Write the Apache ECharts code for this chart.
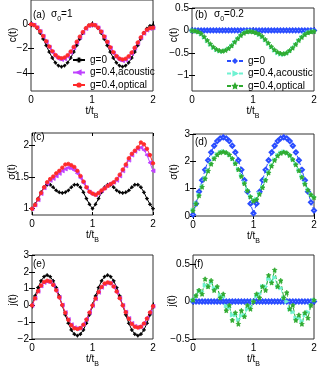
<!DOCTYPE html>
<html>
<head>
<meta charset="utf-8">
<script src="https://cdn.jsdelivr.net/npm/echarts@6.0.0/dist/echarts.min.js"></script>
<style>
  html, body { margin: 0; padding: 0; background: #fff; }
  #main { width: 320px; height: 369px; }
</style>
</head>
<body>
<div id="main"></div>
<script>
// time axis t/t_B
const tB = [0, 0.05, 0.1, 0.15, 0.2, 0.25, 0.3, 0.35, 0.4, 0.45, 0.5, 0.55, 0.6, 0.65, 0.7, 0.75, 0.8, 0.85, 0.9, 0.95,
  1, 1.05, 1.1, 1.15, 1.2, 1.25, 1.3, 1.35, 1.4, 1.45, 1.5, 1.55, 1.6, 1.65, 1.7, 1.75, 1.8, 1.85, 1.9, 1.95, 2];

// (a) c(t), sigma0 = 1
const aG0 = [0, -0.09, -0.33, -0.72, -1.21, -1.75, -2.29, -2.78, -3.17, -3.41, -3.5, -3.41, -3.17, -2.78, -2.29, -1.75, -1.21, -0.72, -0.33, -0.09,
  0, -0.09, -0.33, -0.72, -1.21, -1.75, -2.29, -2.78, -3.17, -3.41, -3.5, -3.41, -3.17, -2.78, -2.29, -1.75, -1.21, -0.72, -0.35, -0.14, -0.08];
const aAc = [0, -0.07, -0.28, -0.6, -1.0, -1.45, -1.9, -2.3, -2.62, -2.83, -2.9, -2.84, -2.64, -2.33, -1.95, -1.5, -1.07, -0.68, -0.35, -0.12,
  -0.05, -0.1, -0.3, -0.63, -1.05, -1.5, -1.96, -2.38, -2.7, -2.92, -3.0, -2.93, -2.72, -2.4, -1.98, -1.55, -1.12, -0.75, -0.48, -0.34, -0.3];
const aOp = [0, -0.07, -0.27, -0.58, -0.97, -1.4, -1.83, -2.22, -2.53, -2.73, -2.8, -2.74, -2.55, -2.25, -1.87, -1.44, -1.02, -0.64, -0.32, -0.1,
  -0.03, -0.08, -0.28, -0.6, -1.01, -1.45, -1.9, -2.3, -2.62, -2.83, -2.9, -2.84, -2.64, -2.33, -1.93, -1.5, -1.08, -0.72, -0.45, -0.32, -0.28];

// (b) c(t), sigma0 = 0.2
const bG0 = [0, 0, 0, 0, 0, 0, 0, 0, 0, 0, 0, 0, 0, 0, 0, 0, 0, 0, 0, 0,
  0, 0, 0, 0, 0, 0, 0, 0, 0, 0, 0, 0, 0, 0, 0, 0, 0, 0, 0, 0, 0];
const bAc = [0, -0.01, -0.03, -0.08, -0.15, -0.23, -0.31, -0.38, -0.43, -0.46, -0.47, -0.45, -0.41, -0.35, -0.27, -0.19, -0.12, -0.06, -0.03, -0.02,
  -0.03, -0.05, -0.09, -0.14, -0.21, -0.29, -0.37, -0.44, -0.5, -0.53, -0.54, -0.52, -0.47, -0.4, -0.32, -0.23, -0.15, -0.09, -0.05, -0.03, -0.02];
const bOp = [0, -0.01, -0.03, -0.07, -0.14, -0.22, -0.3, -0.37, -0.42, -0.45, -0.46, -0.44, -0.4, -0.34, -0.26, -0.18, -0.11, -0.06, -0.03, -0.02,
  -0.03, -0.05, -0.08, -0.13, -0.2, -0.28, -0.36, -0.43, -0.48, -0.51, -0.52, -0.5, -0.45, -0.39, -0.31, -0.22, -0.15, -0.09, -0.05, -0.03, -0.02];

// (c) sigma(t), sigma0 = 1
const cG0 = [1.0, 1.07, 1.16, 1.26, 1.34, 1.38, 1.38, 1.34, 1.29, 1.26, 1.25, 1.26, 1.29, 1.34, 1.38, 1.38, 1.34, 1.26, 1.16, 1.07,
  1.0, 1.07, 1.16, 1.26, 1.34, 1.38, 1.38, 1.34, 1.29, 1.26, 1.25, 1.26, 1.29, 1.34, 1.38, 1.38, 1.34, 1.26, 1.16, 1.07, 1.0];
const cAc = [1.0, 1.06, 1.14, 1.24, 1.33, 1.4, 1.45, 1.48, 1.52, 1.56, 1.6, 1.63, 1.65, 1.64, 1.61, 1.56, 1.49, 1.41, 1.33, 1.26,
  1.23, 1.22, 1.25, 1.29, 1.33, 1.37, 1.4, 1.42, 1.45, 1.52, 1.6, 1.68, 1.77, 1.85, 1.91, 1.95, 1.97, 1.93, 1.85, 1.73, 1.6];
const cOp = [1.0, 1.06, 1.15, 1.25, 1.34, 1.42, 1.47, 1.51, 1.56, 1.6, 1.65, 1.7, 1.71, 1.69, 1.66, 1.6, 1.52, 1.43, 1.34, 1.27,
  1.24, 1.22, 1.25, 1.29, 1.32, 1.36, 1.39, 1.42, 1.47, 1.54, 1.62, 1.7, 1.8, 1.87, 1.92, 1.97, 2.05, 2.02, 1.95, 1.85, 1.72];

// (d) sigma(t), sigma0 = 0.2
const dG0 = [0.05, 0.45, 0.89, 1.31, 1.69, 2.04, 2.33, 2.57, 2.74, 2.84, 2.88, 2.84, 2.74, 2.57, 2.33, 2.04, 1.69, 1.31, 0.89, 0.45,
  0.1, 0.45, 0.89, 1.31, 1.69, 2.04, 2.33, 2.57, 2.74, 2.84, 2.88, 2.84, 2.74, 2.57, 2.33, 2.04, 1.69, 1.31, 0.89, 0.5, 0.2];
const dAc = [0.22, 0.47, 0.77, 1.08, 1.38, 1.66, 1.91, 2.11, 2.25, 2.33, 2.36, 2.33, 2.25, 2.11, 1.93, 1.72, 1.48, 1.22, 0.96, 0.73,
  0.58, 0.62, 0.82, 1.06, 1.33, 1.6, 1.85, 2.06, 2.22, 2.31, 2.35, 2.32, 2.23, 2.08, 1.9, 1.68, 1.45, 1.2, 0.98, 0.8, 0.7];
const dOp = [0.2, 0.45, 0.75, 1.06, 1.37, 1.65, 1.9, 2.1, 2.24, 2.32, 2.35, 2.32, 2.24, 2.1, 1.92, 1.7, 1.45, 1.19, 0.93, 0.7,
  0.55, 0.6, 0.8, 1.04, 1.31, 1.58, 1.83, 2.04, 2.2, 2.3, 2.34, 2.31, 2.22, 2.07, 1.88, 1.66, 1.42, 1.17, 0.95, 0.78, 0.68];

// (e) j(t), sigma0 = 1
const eG0 = [0, 0.56, 1.06, 1.46, 1.71, 1.8, 1.71, 1.46, 1.06, 0.56, 0, -0.56, -1.06, -1.46, -1.71, -1.8, -1.71, -1.46, -1.06, -0.56,
  0, 0.56, 1.06, 1.46, 1.71, 1.8, 1.71, 1.46, 1.06, 0.56, 0, -0.56, -1.06, -1.46, -1.71, -1.8, -1.71, -1.46, -1.06, -0.56, 0];
const eAc = [0, 0.43, 0.84, 1.16, 1.37, 1.43, 1.38, 1.19, 0.88, 0.47, 0.02, -0.43, -0.84, -1.15, -1.33, -1.37, -1.32, -1.12, -0.82, -0.42,
  0, 0.4, 0.78, 1.08, 1.28, 1.34, 1.3, 1.1, 0.8, 0.42, 0, -0.4, -0.78, -1.07, -1.25, -1.3, -1.25, -1.06, -0.76, -0.41, -0.05];
const eOp = [0, 0.42, 0.85, 1.18, 1.4, 1.47, 1.42, 1.22, 0.9, 0.48, 0.02, -0.44, -0.86, -1.18, -1.36, -1.4, -1.35, -1.15, -0.84, -0.43,
  0, 0.41, 0.8, 1.1, 1.3, 1.37, 1.32, 1.12, 0.82, 0.43, 0, -0.41, -0.8, -1.1, -1.27, -1.32, -1.27, -1.08, -0.78, -0.42, -0.05];

// (f) j(t), sigma0 = 0.2
const fG0 = [0, 0, 0, 0, 0, 0, 0, 0, 0, 0, 0, 0, 0, 0, 0, 0, 0, 0, 0, 0,
  0, 0, 0, 0, 0, 0, 0, 0, 0, 0, 0, 0, 0, 0, 0, 0, 0, 0, 0, 0, 0];
const fAc = [0.02, 0.07, 0.14, 0.13, 0.22, 0.2, 0.25, 0.18, 0.18, 0.08, 0.06, -0.06, -0.08, -0.18, -0.18, -0.24, -0.19, -0.18, -0.1, -0.07,
  0.0, 0.07, 0.1, 0.2, 0.2, 0.3, 0.27, 0.32, 0.2, 0.18, 0.05, 0.0, -0.1, -0.14, -0.22, -0.22, -0.26, -0.18, -0.14, -0.05, 0.02];
const fOp = [0.02, 0.08, 0.15, 0.1, 0.3, 0.2, 0.28, 0.15, 0.2, 0.05, 0.1, -0.12, -0.05, -0.25, -0.15, -0.3, -0.12, -0.2, -0.05, -0.1,
  0.0, 0.1, 0.05, 0.2, 0.15, 0.35, 0.25, 0.42, 0.2, 0.28, 0.05, 0.12, -0.1, -0.05, -0.25, -0.18, -0.3, -0.15, -0.22, -0.05, 0.02];

const xTicks = [0, 1, 2];
const yTicks = [[-4, -2, 0], [-1, -0.5, 0, 0.5], [1, 1.5, 2], [0, 1, 2, 3], [-2, -1, 0, 1, 2, 3], [-0.5, 0, 0.5]];
const yRange = [[-5.5, 2], [-1.35, 0.5], [0.9, 2.2], [0, 3], [-2, 3], [-0.5, 0.62]];
const yNames = ['c(t)', 'c(t)', 'σ(t)', 'σ(t)', 'j(t)', 'j(t)'];
const panelTags = ['(a)', '(b)', '(c)', '(d)', '(e)', '(f)'];
const leftNames = ['g=0', 'g=0.4,acoustic', 'g=0.4,optical'];
const rightNames = ['R g=0', 'R g=0.4,acoustic', 'R g=0.4,optical'];

const FONT = '"Liberation Sans", Arial, sans-serif';
const grids = [
  { left: 31, top: -1, width: 122, height: 92 },
  { left: 192, top: 8, width: 122, height: 83 },
  { left: 32, top: 133, width: 121, height: 82 },
  { left: 193, top: 134, width: 121, height: 82 },
  { left: 32, top: 255, width: 121, height: 84 },
  { left: 193, top: 255, width: 121, height: 84 }
];

const STAR = 'path://M0,-10L2.9,-4L9.5,-3.1L4.7,1.5L5.9,8.1L0,5L-5.9,8.1L-4.7,1.5L-9.5,-3.1L-2.9,-4Z';
const PLUS = 'path://M-1,-5H1V-1H5V1H1V5H-1V1H-5V-1H-1Z';

const minus = v => String(v).replace('-', '\u2212');

const line = (name, gi, ys, color, symbol, size, dashed, rotate) => ({
  name: name,
  type: 'line',
  xAxisIndex: gi,
  yAxisIndex: gi,
  data: tB.map((t, i) => [t, ys[i]]),
  symbol: symbol,
  symbolSize: size,
  symbolRotate: rotate || 0,
  showSymbol: true,
  lineStyle: { color: color, width: 1, type: dashed ? [4, 2] : 'solid' },
  itemStyle: { color: color, borderColor: color, borderWidth: 0.8 },
  emphasis: { disabled: true }
});

const BLACK = '#000000', MAG = '#bf40ff', RED = '#ff2a2a';
const BLUE = '#2a4dff', CYAN = '#70f2d2', GREEN = '#2faa2f';

const series = [
  line(leftNames[0], 0, aG0, BLACK, PLUS, 3),
  line(leftNames[1], 0, aAc, MAG, 'triangle', 4, false, 90),
  line(leftNames[2], 0, aOp, RED, 'circle', 3.5),
  line(rightNames[0], 1, bG0, BLUE, 'emptyDiamond', 4, true),
  line(rightNames[1], 1, bAc, CYAN, 'triangle', 4, true, -90),
  line(rightNames[2], 1, bOp, GREEN, STAR, 4.5, true),
  line(leftNames[0], 2, cG0, BLACK, PLUS, 3),
  line(leftNames[1], 2, cAc, MAG, 'triangle', 4, false, 90),
  line(leftNames[2], 2, cOp, RED, 'circle', 3.5),
  line(rightNames[0], 3, dG0, BLUE, 'emptyDiamond', 4, true),
  line(rightNames[1], 3, dAc, CYAN, 'triangle', 4, true, -90),
  line(rightNames[2], 3, dOp, GREEN, STAR, 4.5, true),
  line(leftNames[0], 4, eG0, BLACK, PLUS, 3),
  line(leftNames[1], 4, eAc, MAG, 'triangle', 4, false, 90),
  line(leftNames[2], 4, eOp, RED, 'circle', 3.5),
  line(rightNames[0], 5, fG0, BLUE, 'emptyDiamond', 4, true),
  line(rightNames[1], 5, fAc, CYAN, 'triangle', 4, true, -90),
  line(rightNames[2], 5, fOp, GREEN, STAR, 4.5, true)
];

const xAxis = [], yAxis = [];
grids.forEach((g, i) => {
  xAxis.push({
    type: 'value', gridIndex: i, min: 0, max: 2, position: 'bottom',
    name: '{a|t/t}{b|B}', nameLocation: 'middle', nameGap: 11,
    nameTextStyle: {
      rich: {
        a: { fontFamily: FONT, fontSize: 10, color: '#000', lineHeight: 14, verticalAlign: 'top' },
        b: { fontFamily: FONT, fontSize: 7, color: '#000', lineHeight: 14, verticalAlign: 'bottom', padding: [6, 0, 0, 0] }
      }
    },
    axisLine: { show: false },
    splitLine: { show: false },
    axisTick: { inside: true, length: 3, customValues: xTicks, lineStyle: { color: '#000' } },
    axisLabel: { customValues: xTicks, margin: 4, fontFamily: FONT, fontSize: 10, color: '#000' }
  });
  yAxis.push({
    type: 'value', gridIndex: i, min: yRange[i][0], max: yRange[i][1], position: 'left',
    axisLine: { show: false },
    splitLine: { show: false },
    axisTick: { inside: true, length: 3, customValues: yTicks[i], lineStyle: { color: '#000' } },
    axisLabel: { customValues: yTicks[i], margin: 3, fontFamily: FONT, fontSize: 10, color: '#000', formatter: minus }
  });
});
// mirrored ticks on the top and right edges
grids.forEach((g, i) => {
  xAxis.push({
    type: 'value', gridIndex: i, min: 0, max: 2, position: 'top',
    axisLine: { show: false }, splitLine: { show: false }, axisLabel: { show: false },
    axisTick: { inside: true, length: 3, customValues: xTicks, lineStyle: { color: '#000' } }
  });
  yAxis.push({
    type: 'value', gridIndex: i, min: yRange[i][0], max: yRange[i][1], position: 'right',
    axisLine: { show: false }, splitLine: { show: false }, axisLabel: { show: false },
    axisTick: { inside: true, length: 3, customValues: yTicks[i], lineStyle: { color: '#000' } }
  });
});

const yNamePos = [[13, 35], [174, 35], [12, 172], [174, 172], [13, 300], [172, 301]];
const tagPos = [[33, 15], [195, 15], [33, 137], [195, 142], [33, 264], [194, 264]];

const graphic = [];
yNames.forEach((n, i) => {
  graphic.push({
    type: 'text', x: yNamePos[i][0], y: yNamePos[i][1], rotation: Math.PI / 2,
    style: { text: n, font: '10px ' + FONT, fill: '#000', align: 'center', verticalAlign: 'middle' }
  });
});
panelTags.forEach((n, i) => {
  graphic.push({
    type: 'text', x: tagPos[i][0], y: tagPos[i][1],
    style: { text: n, font: '10px ' + FONT, fill: '#000', align: 'left', verticalAlign: 'middle' }
  });
});
const sigmaRich = {
  a: { fontFamily: FONT, fontSize: 10, fill: '#000', lineHeight: 14, verticalAlign: 'top' },
  b: { fontFamily: FONT, fontSize: 7, fill: '#000', lineHeight: 14, verticalAlign: 'bottom', padding: [6, 0, 0, 0] }
};
graphic.push({
  type: 'text', x: 51, y: 16,
  style: { text: '{a|σ}{b|0}{a|=1}', rich: sigmaRich, align: 'left', verticalAlign: 'middle' }
});
graphic.push({
  type: 'text', x: 214, y: 16,
  style: { text: '{a|σ}{b|0}{a|=0.2}', rich: sigmaRich, align: 'left', verticalAlign: 'middle' }
});

const legendBase = {
  orient: 'vertical',
  itemWidth: 12,
  itemHeight: 4,
  itemGap: 2.5,
  padding: [2, 2, 2, 2],
  selectedMode: false,
  textStyle: { fontFamily: FONT, fontSize: 10, color: '#000', lineHeight: 10 }
};

const option = {
  animation: false,
  backgroundColor: '#fff',
  grid: grids.map(g => Object.assign({ show: true, borderColor: '#333', borderWidth: 1, backgroundColor: 'transparent' }, g)),
  xAxis: xAxis,
  yAxis: yAxis,
  legend: [
    Object.assign({}, legendBase, { left: 70, top: 53, data: leftNames }),
    Object.assign({}, legendBase, { left: 224, top: 54, itemWidth: 16, data: rightNames, formatter: n => n.slice(2) })
  ],
  graphic: graphic,
  series: series
};

const chart = echarts.init(document.getElementById('main'));
chart.setOption(option);
</script>
</body>
</html>
